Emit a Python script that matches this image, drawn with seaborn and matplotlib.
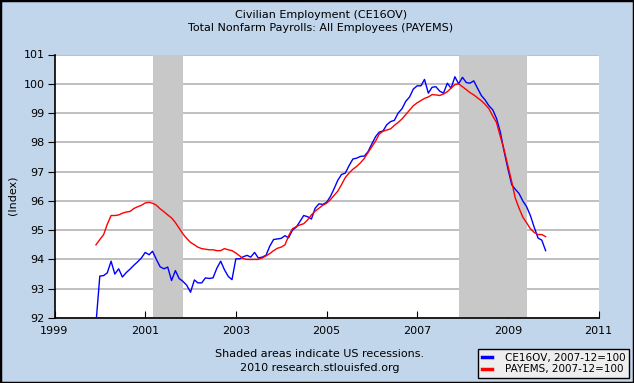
import pandas as pd
import numpy as np
import matplotlib
matplotlib.use('Agg')
import matplotlib.pyplot as plt
import matplotlib.dates as mdates
from matplotlib.patches import Rectangle
import seaborn as sns

# ------------------------------------------------------------
# Data (index, 2007-12 = 100), monthly Dec 1999 .. Nov 2009
# ------------------------------------------------------------
months = pd.date_range('1999-12-01', '2009-11-01', freq='MS')

ce16ov = [
    91.8,
    93.43, 93.45, 93.54, 93.94, 93.5, 93.68, 93.4, 93.55, 93.67, 93.8, 93.92, 94.05,
    94.24, 94.16, 94.28, 94.0, 93.75, 93.68, 93.74, 93.28, 93.62, 93.35, 93.25, 93.12,
    92.88, 93.3, 93.2, 93.2, 93.37, 93.35, 93.37, 93.7, 93.94, 93.65, 93.42, 93.31,
    94.02, 94.02, 94.09, 94.14, 94.08, 94.24, 94.05, 94.08, 94.14, 94.45, 94.68, 94.7,
    94.72, 94.81, 94.74, 95.0, 95.1, 95.3, 95.5, 95.46, 95.38, 95.75, 95.9, 95.88,
    95.95, 96.15, 96.4, 96.7, 96.9, 96.95, 97.2, 97.43, 97.46, 97.52, 97.53, 97.68,
    97.95, 98.2, 98.35, 98.39, 98.6, 98.71, 98.75, 99.0, 99.15, 99.4, 99.55, 99.82,
    99.93, 99.93, 100.15, 99.68, 99.88, 99.9, 99.75, 99.68, 100.02, 99.85, 100.24, 100.0,
    100.22, 100.04, 100.02, 100.1, 99.85, 99.6, 99.45, 99.25, 99.11, 98.82, 98.35, 97.7,
    97.1, 96.55, 96.4, 96.25, 96.0, 95.8, 95.5, 95.1, 94.73, 94.66, 94.3,
]

payems = [
    94.5,
    94.68, 94.85, 95.2, 95.5, 95.5, 95.52, 95.58, 95.62, 95.64, 95.74, 95.8, 95.85,
    95.93, 95.95, 95.92, 95.85, 95.73, 95.63, 95.52, 95.42, 95.26, 95.07, 94.87, 94.72,
    94.58, 94.5, 94.42, 94.37, 94.35, 94.33, 94.33, 94.3, 94.3, 94.37, 94.33, 94.3,
    94.22, 94.12, 94.03, 94.0, 94.0, 94.0, 94.0, 94.05, 94.12, 94.2, 94.3, 94.38,
    94.42, 94.5, 94.8, 95.05, 95.12, 95.18, 95.22, 95.35, 95.52, 95.65, 95.75, 95.85,
    95.92, 96.04, 96.18, 96.33, 96.55, 96.8, 96.95, 97.08, 97.18, 97.3, 97.45, 97.65,
    97.85, 98.05, 98.28, 98.38, 98.42, 98.46, 98.58, 98.68, 98.8, 98.95, 99.1, 99.25,
    99.35, 99.43, 99.5, 99.55, 99.63, 99.62, 99.6, 99.65, 99.73, 99.85, 99.97, 100.0,
    99.9, 99.8, 99.7, 99.62, 99.52, 99.42, 99.3, 99.15, 98.9, 98.68, 98.2, 97.75,
    97.2, 96.65, 96.1, 95.75, 95.45, 95.25, 95.05, 94.92, 94.85, 94.85, 94.78,
]

recessions = [('2001-03-01', '2001-11-01'), ('2007-12-01', '2009-06-01')]
tick_years = [1999, 2001, 2003, 2005, 2007, 2009, 2011]
series_labels = ['CE16OV, 2007-12=100', 'PAYEMS, 2007-12=100']
series_colors = ['#0000FF', '#FF0000']

df = pd.DataFrame({'date': months, 'CE16OV': ce16ov, 'PAYEMS': payems})

# ------------------------------------------------------------
# Figure
# ------------------------------------------------------------
bg = '#C1D6EB'
fig = plt.figure(figsize=(6.34, 3.83), dpi=100, facecolor=bg)
ax = fig.add_axes([54.5 / 634, 1 - 318 / 383, (598.5 - 54.5) / 634, (318 - 54.5) / 383])
ax.set_facecolor('white')

for start, end in recessions:
    ax.axvspan(pd.Timestamp(start), pd.Timestamp(end), color='#C8C8C8', lw=0, zorder=1)

for col, lab, c in zip(['CE16OV', 'PAYEMS'], series_labels, series_colors):
    sns.lineplot(data=df, x='date', y=col, ax=ax, color=c, lw=1.0, label=lab, zorder=3)

ax.set_xlim(pd.Timestamp('1999-01-01'), pd.Timestamp('2011-01-01'))
ax.set_ylim(92, 101)
ax.set_yticks(range(92, 102))
tick_dates = [pd.Timestamp(f'{y}-01-01') for y in tick_years]
ax.set_xticks(tick_dates)
ax.set_xticklabels([str(y) for y in tick_years])

ax.yaxis.grid(True, color='#B4B4B4', lw=1.2)
ax.xaxis.grid(False)
ax.set_axisbelow(True)
for s in ['top', 'right']:
    ax.spines[s].set_visible(False)
for s in ['left', 'bottom']:
    ax.spines[s].set_color('black')
    ax.spines[s].set_linewidth(1.2)

ax.tick_params(axis='x', direction='in', length=5, color='black', pad=6, labelsize=8)
ax.tick_params(axis='y', direction='out', length=5, color='black', pad=2, labelsize=8)
ax.set_xlabel('')
ax.set_ylabel('')

fig.text(13 / 634, 1 - 195 / 383, '(Index)', rotation=90, ha='center', va='center', fontsize=8)

fig.text(321 / 634, 1 - 15 / 383, 'Civilian Employment (CE16OV)', ha='center', va='center', fontsize=8)
fig.text(321 / 634, 1 - 28 / 383, 'Total Nonfarm Payrolls: All Employees (PAYEMS)',
         ha='center', va='center', fontsize=8)

fig.text(320 / 634, 1 - 354 / 383, 'Shaded areas indicate US recessions.', ha='center', va='center', fontsize=8)
fig.text(320 / 634, 1 - 368 / 383, '2010 research.stlouisfed.org', ha='center', va='center', fontsize=8)

leg = ax.legend(loc='lower right', bbox_to_anchor=(629 / 634, 1 - 378 / 383),
                bbox_transform=fig.transFigure, frameon=True, fancybox=False,
                facecolor='#EEEEEE', edgecolor='black', framealpha=1, fontsize=7.5,
                handlelength=1.0, handletextpad=1.2, labelspacing=0.15, borderpad=0.35,
                borderaxespad=0)
leg.get_frame().set_linewidth(1.0)
for line in leg.get_lines():
    line.set_linewidth(2.5)

fig.patches.append(Rectangle((0, 0), 1, 1, transform=fig.transFigure, fill=False,
                             edgecolor='black', lw=2.5))

plt.savefig('out.png', dpi=100, facecolor=bg)
